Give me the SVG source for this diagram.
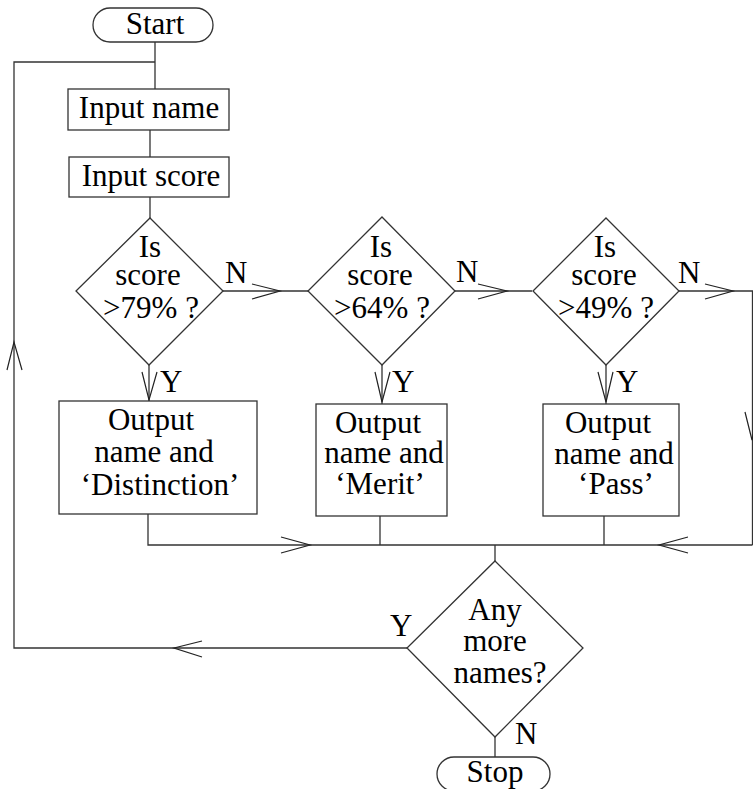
<svg xmlns="http://www.w3.org/2000/svg" width="753" height="789" viewBox="0 0 753 789">
<style>
.s{fill:#fff;stroke:#333;stroke-width:1.3}
.l{fill:none;stroke:#333;stroke-width:1.3}
.a{fill:none;stroke:#222;stroke-width:1.2}
text{font-family:"Liberation Serif","Times New Roman",serif;font-size:31px;fill:#000;text-anchor:middle}
.st{text-anchor:start}
</style>
<rect width="753" height="789" fill="#fff"/>
<g id="connectors">
<path class="l" d="M155 42V89M150 130V157M150 197V218"/>
<path class="l" d="M155 62H14V648H407"/>
<path class="l" d="M223 291H308M455 291H532M679 291H752.5V545"/>
<path class="l" d="M149 365V401M382 365V404M606 365V404"/>
<path class="l" d="M148 514V545H752.5M380 516V545M604 516V545M495 545V561"/>
<path class="l" d="M495 737V757"/>
<path class="a" d="M7 370L14 342L22 370"/>
<path class="a" d="M252 284L280 291L252 299M478 284L507 291L478 299M705 284L733 291L705 299"/>
<path class="a" d="M142 372L149 400L157 372M375 372L382 402L390 372M598 372L606 402L613 372"/>
<path class="a" d="M281 537L310 545L281 553M688 537L659 545L688 553"/>
<path class="a" d="M745 412L752 440L759 412"/>
<path class="a" d="M202 641L174 648L202 657"/>
<text class="st" x="225" y="283">N</text>
<text class="st" x="456" y="282">N</text>
<text class="st" x="678" y="283">N</text>
<text class="st" x="160" y="392">Y</text>
<text class="st" x="392" y="392">Y</text>
<text class="st" x="616" y="392">Y</text>
<text class="st" x="390" y="636">Y</text>
<text class="st" x="515" y="744">N</text>
</g>
<g id="start">
<rect class="s" x="93" y="8" width="120" height="34" rx="17" ry="17"/>
<text x="155" y="34">Start</text>
</g>
<g id="input-name">
<rect class="s" x="68" y="89" width="161" height="41"/>
<text x="149" y="118">Input name</text>
</g>
<g id="input-score">
<rect class="s" x="69" y="157" width="160" height="40"/>
<text x="151" y="186">Input score</text>
</g>
<g id="dec1">
<polygon class="s" points="150,218 223,291 149,365 76,291"/>
<text x="150" y="257">Is</text>
<text x="148" y="285">score</text>
<text x="151" y="318">&gt;79% ?</text>
</g>
<g id="dec2">
<polygon class="s" points="382,217 455,291 382,365 308,291"/>
<text x="381" y="257">Is</text>
<text x="380" y="285">score</text>
<text x="382" y="318">&gt;64% ?</text>
</g>
<g id="dec3">
<polygon class="s" points="606,218 679,291 606,365 533,291"/>
<text x="605" y="257">Is</text>
<text x="604" y="285">score</text>
<text x="606" y="318">&gt;49% ?</text>
</g>
<g id="out1">
<rect class="s" x="59" y="401" width="198" height="113"/>
<text x="151" y="430">Output</text>
<text x="154" y="462">name and</text>
<text x="160" y="495">‘Distinction’</text>
</g>
<g id="out2">
<rect class="s" x="316" y="404" width="131" height="112"/>
<text x="378" y="433">Output</text>
<text x="384" y="463">name and</text>
<text x="380" y="494">‘Merit’</text>
</g>
<g id="out3">
<rect class="s" x="543" y="404" width="136" height="112"/>
<text x="608" y="433">Output</text>
<text x="614" y="464">name and</text>
<text x="616" y="494">‘Pass’</text>
</g>
<g id="dec4">
<polygon class="s" points="495,561 583,648 495,737 407,648"/>
<text x="495" y="620">Any</text>
<text x="495" y="651">more</text>
<text x="500" y="683">names?</text>
</g>
<g id="stop">
<rect class="s" x="437" y="757" width="113" height="34" rx="17" ry="17"/>
<text x="495" y="782">Stop</text>
</g>
</svg>
